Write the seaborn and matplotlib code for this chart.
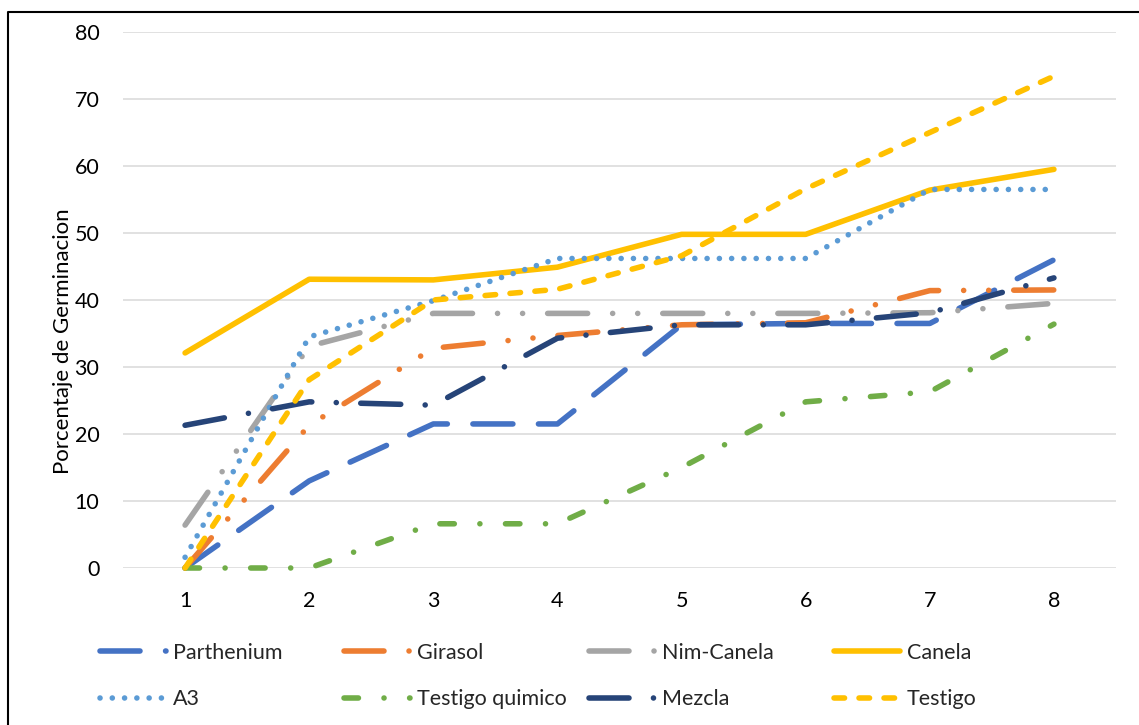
import matplotlib
matplotlib.use("Agg")
import matplotlib.pyplot as plt
from matplotlib.lines import Line2D
import pandas as pd
import seaborn as sns

# Germination percentage per day for each treatment
dias = [1, 2, 3, 4, 5, 6, 7, 8]
parthenium = [0.0, 13.0, 21.5, 21.5, 36.3, 36.5, 36.5, 46.0]
girasol = [0.0, 21.3, 32.8, 34.7, 36.3, 36.6, 41.4, 41.5]
nim_canela = [6.4, 33.1, 38.0, 38.0, 38.0, 38.0, 38.1, 39.5]
canela = [32.1, 43.1, 43.0, 44.9, 49.8, 49.8, 56.4, 59.5]
a3 = [1.6, 34.5, 39.9, 46.2, 46.2, 46.2, 56.5, 56.5]
testigo_quimico = [0.0, 0.0, 6.6, 6.6, 15.0, 24.8, 26.3, 36.4]
mezcla = [21.3, 24.8, 24.3, 34.3, 36.3, 36.3, 38.1, 43.3]
testigo = [0.0, 28.1, 40.0, 41.6, 46.6, 56.6, 65.0, 73.4]

series = ["Parthenium", "Girasol", "Nim-Canela", "Canela",
          "A3", "Testigo quimico", "Mezcla", "Testigo"]
valores = [parthenium, girasol, nim_canela, canela,
           a3, testigo_quimico, mezcla, testigo]

colores = {
    "Parthenium": "#4472C4",
    "Girasol": "#ED7D31",
    "Nim-Canela": "#A5A5A5",
    "Canela": "#FFC000",
    "A3": "#5B9BD5",
    "Testigo quimico": "#70AD47",
    "Mezcla": "#264478",
    "Testigo": "#FFC000",
}

# dash patterns in multiples of the line width (round caps)
trazos = {
    "Parthenium": (7.2, 4.6),
    "Girasol": (7.2, 4.5, 0.01, 4.5, 0.01, 4.5),
    "Nim-Canela": (7.2, 4.5, 0.01, 4.5, 0.01, 4.5),
    "Canela": "",
    "A3": (0.01, 2.2),
    "Testigo quimico": (2.6, 4.6, 0.01, 4.6),
    "Mezcla": (7.2, 4.4, 0.01, 4.4),
    "Testigo": (1.9, 2.6),
}

df = pd.DataFrame({
    "Dia": dias * len(series),
    "Germinacion": [v for vals in valores for v in vals],
    "Tratamiento": [s for s in series for _ in dias],
})

sns.set_style("white")
plt.rcParams["font.family"] = ["Lato", "DejaVu Sans"]
FS = 15.5

fig = plt.figure(figsize=(11.39, 7.25), dpi=100)
ax = fig.add_axes([123 / 1139, 1 - 568 / 725, (1116 - 123) / 1139, (568 - 32) / 725])

sns.lineplot(
    data=df, x="Dia", y="Germinacion", hue="Tratamiento", style="Tratamiento",
    hue_order=series, style_order=series, palette=colores, dashes=trazos,
    linewidth=4.0, errorbar=None, legend=False, ax=ax,
    dash_capstyle="round", solid_capstyle="round", solid_joinstyle="round",
    dash_joinstyle="round", clip_on=False,
)

ax.set_xlim(0.5, 8.5)
ax.set_ylim(0, 80)
ax.set_xticks(dias)
ax.set_yticks(range(0, 81, 10))
ax.tick_params(axis="both", length=0, labelsize=FS, colors="black")
ax.tick_params(axis="y", pad=17)
ax.tick_params(axis="x", pad=16.5)
ax.grid(False)
ax.yaxis.grid(True, color="#D9D9D9", linewidth=1.1)
ax.set_axisbelow(True)
for sp in ax.spines.values():
    sp.set_visible(False)

ax.set_xlabel("")
ax.set_ylabel("Porcentaje de Germinacion", fontsize=FS + 0.5, color="black")
ax.yaxis.set_label_coords((73 - 123) / 993, (568 - 341) / 536)

# legend: four equal-width columns, two rows
lineas = {s: ln for s, ln in zip(series, ax.lines)}
columnas = [("Parthenium", "A3"), ("Girasol", "Testigo quimico"),
            ("Nim-Canela", "Mezcla"), ("Canela", "Testigo")]
inicios = [99.5, 343.5, 588.5, 833.5]
for (s1, s2), x0 in zip(columnas, inicios):
    fig.legend(
        [lineas[s1], lineas[s2]], [s1, s2],
        loc="center left", bbox_to_anchor=(x0 / 1139, 1 - 676 / 725),
        frameon=False, borderpad=0, borderaxespad=0, fontsize=FS,
        handlelength=3.1, handletextpad=0.3, labelspacing=1.25,
    )

# outer frame
x0f = 8 / 1139
ytf = 1 - 12 / 725
fig.add_artist(Line2D([x0f, x0f, 1.01], [-0.01, ytf, ytf],
                      transform=fig.transFigure, color="black", linewidth=1.5))

fig.savefig("out.png", dpi=100, facecolor="white")
